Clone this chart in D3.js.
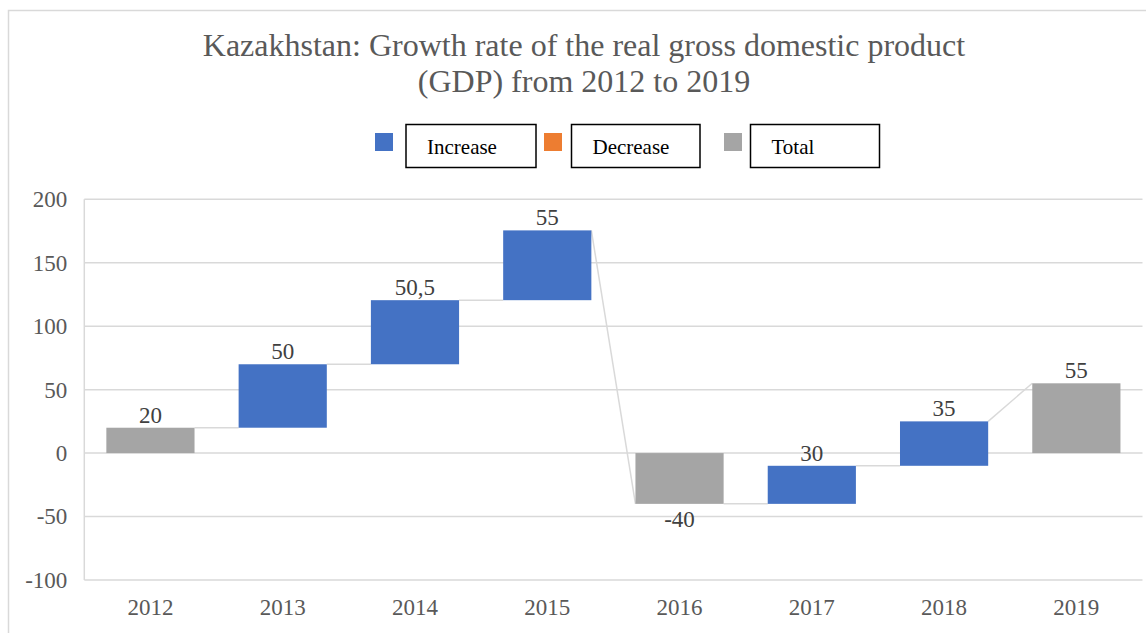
<!DOCTYPE html>
<html>
<head>
<meta charset="utf-8">
<script src="https://cdn.jsdelivr.net/npm/d3@7"></script>
<style>
  html, body { margin: 0; padding: 0; background: #fff; }
  svg text { font-family: "Liberation Serif", "Times New Roman", serif; }
</style>
</head>
<body>
<div id="chart"></div>
<script>
// Kazakhstan real GDP growth - waterfall

const years = ['2012', '2013', '2014', '2015', '2016', '2017', '2018', '2019'];
const values = [20, 50, 50.5, 55, -40, 30, 35, 55];
const kinds = ['total', 'increase', 'increase', 'increase', 'total', 'increase', 'increase', 'total'];
const labels = ['20', '50', '50,5', '55', '-40', '30', '35', '55'];
const yTicks = [-100, -50, 0, 50, 100, 150, 200];
const legendItems = ['Increase', 'Decrease', 'Total'];

const colors = { increase: '#4472c4', decrease: '#ed7d31', total: '#a5a5a5' };

const width = 1146;
const height = 633;
const margin = { top: 199.3, right: 3.5, bottom: 53, left: 84.3 };

const svg = d3.select('#chart').append('svg')
  .attr('width', width)
  .attr('height', height);

// outer frame (only top/left edges visible in the crop)
svg.append('path')
  .attr('d', `M8.5,${height} V10.5 H${width}`)
  .attr('fill', 'none')
  .attr('stroke', '#d9d9d9')
  .attr('stroke-width', 1.5);

// title
const title = svg.append('text')
  .attr('text-anchor', 'middle')
  .attr('fill', '#595959')
  .attr('font-size', '32px');
title.append('tspan').attr('x', 584).attr('y', 56)
  .text('Kazakhstan: Growth rate of the real gross domestic product');
title.append('tspan').attr('x', 584).attr('y', 92)
  .text('(GDP) from 2012 to 2019');

// running totals -> waterfall segments
let running = 0;
const bars = years.map((year, i) => {
  let start, end;
  if (kinds[i] === 'total') {
    start = 0; end = values[i];
  } else {
    start = running; end = running + values[i];
  }
  running = end;
  return { year, kind: kinds[i], value: values[i], start, end, label: labels[i] };
});

const x = d3.scaleBand()
  .domain(years)
  .range([margin.left, width - margin.right])
  .paddingInner(1 / 3)
  .paddingOuter(1 / 6);

const y = d3.scaleLinear()
  .domain([d3.min(yTicks), d3.max(yTicks)])
  .range([height - margin.bottom, margin.top]);

// gridlines
svg.append('g')
  .selectAll('line')
  .data(yTicks)
  .enter()
  .append('line')
  .attr('x1', margin.left)
  .attr('x2', width - margin.right)
  .attr('y1', d => y(d))
  .attr('y2', d => y(d))
  .attr('stroke', '#d9d9d9')
  .attr('stroke-width', 1.5);

// left axis line
svg.append('line')
  .attr('x1', margin.left).attr('x2', margin.left)
  .attr('y1', y(200)).attr('y2', y(-100))
  .attr('stroke', '#d9d9d9')
  .attr('stroke-width', 1.5);

// Y axis labels
const yAxis = svg.append('g')
  .attr('transform', `translate(${margin.left},0)`)
  .call(d3.axisLeft(y).tickValues(yTicks).tickSize(0).tickPadding(17)
    .tickFormat(d => String(d)))
  .attr('font-family', '"Liberation Serif", serif')
  .attr('font-size', '23px');
yAxis.select('.domain').remove();
yAxis.selectAll('text').attr('fill', '#595959');

// X axis labels
const xAxis = svg.append('g')
  .attr('transform', `translate(0,${y(-100)})`)
  .call(d3.axisBottom(x).tickSize(0).tickPadding(19))
  .attr('font-family', '"Liberation Serif", serif')
  .attr('font-size', '23px');
xAxis.select('.domain').remove();
xAxis.selectAll('text').attr('fill', '#595959');

// connector lines
const connectors = bars.slice(1).map((b, i) => {
  const prev = bars[i];
  const target = b.kind === 'total' ? b.end : b.start;
  return { x1: x(prev.year) + x.bandwidth(), y1: prev.end, x2: x(b.year), y2: target };
});
svg.append('g')
  .selectAll('line')
  .data(connectors)
  .enter()
  .append('line')
  .attr('x1', d => d.x1)
  .attr('x2', d => d.x2)
  .attr('y1', d => y(d.y1))
  .attr('y2', d => y(d.y2))
  .attr('stroke', '#d9d9d9')
  .attr('stroke-width', 1.5);

// bars
svg.append('g')
  .selectAll('rect')
  .data(bars)
  .enter()
  .append('rect')
  .attr('x', d => x(d.year))
  .attr('width', x.bandwidth())
  .attr('y', d => y(Math.max(d.start, d.end)))
  .attr('height', d => Math.abs(y(d.start) - y(d.end)))
  .attr('fill', d => colors[d.kind]);

// data labels: above for positive values, below for negative
svg.append('g')
  .selectAll('text')
  .data(bars)
  .enter()
  .append('text')
  .attr('x', d => x(d.year) + x.bandwidth() / 2)
  .attr('y', d => d.value < 0 ? y(Math.min(d.start, d.end)) + 23 : y(Math.max(d.start, d.end)) - 5)
  .attr('text-anchor', 'middle')
  .attr('fill', '#404040')
  .attr('font-size', '23px')
  .text(d => d.label);

// legend: colour swatches with boxed labels
const legendKinds = ['increase', 'decrease', 'total'];
const swatchX = [375, 544, 724];
const boxX = [406, 571.5, 750.5];
const boxW = [130, 128.5, 129];

const legend = svg.append('g');
legend.selectAll('rect.swatch')
  .data(legendKinds)
  .enter()
  .append('rect')
  .attr('class', 'swatch')
  .attr('x', (d, i) => swatchX[i])
  .attr('y', 133)
  .attr('width', 18)
  .attr('height', 18)
  .attr('fill', d => colors[d]);

legend.selectAll('rect.box')
  .data(legendItems)
  .enter()
  .append('rect')
  .attr('class', 'box')
  .attr('x', (d, i) => boxX[i])
  .attr('y', 124.5)
  .attr('width', (d, i) => boxW[i])
  .attr('height', 43)
  .attr('fill', '#fff')
  .attr('stroke', '#000')
  .attr('stroke-width', 1.5);

legend.selectAll('text.box-label')
  .data(legendItems)
  .enter()
  .append('text')
  .attr('class', 'box-label')
  .attr('x', (d, i) => boxX[i] + 21)
  .attr('y', 154)
  .attr('fill', '#000')
  .attr('font-size', '21px')
  .text(d => d);
</script>
</body>
</html>
